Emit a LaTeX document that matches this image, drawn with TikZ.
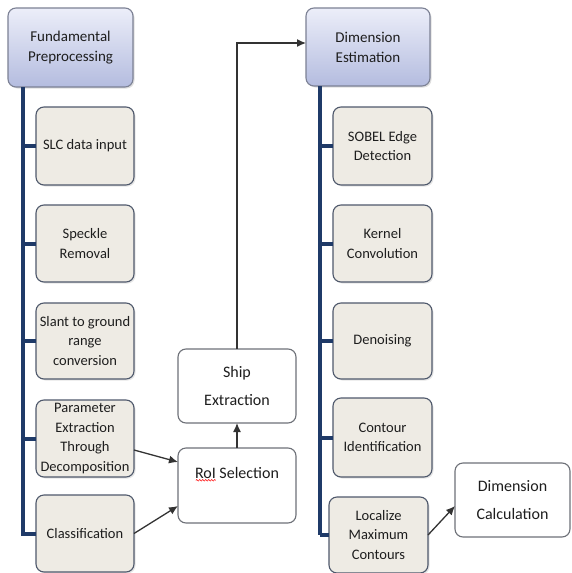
\documentclass[tikz,border=0pt]{standalone}
\usepackage{fontspec}
\setmainfont{Carlito}
\usetikzlibrary{arrows.meta,calc,shadows,decorations.pathmorphing}
\definecolor{barblue}{HTML}{1F3A68}
\definecolor{hdrtop}{HTML}{ECEEF9}
\definecolor{hdrbot}{HTML}{B4BCDF}
\definecolor{hdrline}{HTML}{7C8194}
\definecolor{childfill}{HTML}{EEEBE4}
\definecolor{childline}{HTML}{4F596C}
\definecolor{txt}{HTML}{1E1E1E}
\definecolor{wline}{HTML}{6E7178}
\tikzset{
  box/.style={rounded corners=8pt, align=center, inner sep=1pt, outer sep=0pt,
    text=txt, font=\fontsize{14.5}{19.5}\selectfont, line width=1.1pt},
  hdr/.style={box, font=\fontsize{15}{20}\selectfont, draw=hdrline, top color=hdrtop, bottom color=hdrbot,
    drop shadow={opacity=0.25, shadow xshift=1.5pt, shadow yshift=-1.5pt}},
  child/.style={box, draw=childline, fill=childfill,
    drop shadow={opacity=0.2, shadow xshift=1.5pt, shadow yshift=-1.5pt}},
  wbox/.style={box, draw=wline, fill=white, font=\fontsize{16}{28.5}\selectfont},
  bar/.style={draw=barblue, line width=4pt},
  arr/.style={draw=black!80, line width=1.3pt, -{Latex[length=9pt,width=8pt]}}
}
\begin{document}
\begin{tikzpicture}[x=1pt,y=-1pt]
\useasboundingbox[fill=white] (0,0) rectangle (571,573);
% left column
\node[hdr, minimum width=125pt, minimum height=79pt] (fp) at (70.5,47.5) {Fundamental\\Preprocessing};
\node[child, minimum width=98pt, minimum height=78pt] (slc) at (85,146) {SLC data input};
\node[child, minimum width=98pt, minimum height=77pt] (spk) at (85,243.5) {Speckle\\Removal};
\node[child, minimum width=98pt, minimum height=76pt] (sla) at (85,341) {Slant to ground\\range\\conversion};
\node[child, minimum width=98pt, minimum height=77pt] (par) at (85,438.5) {Parameter\\Extraction\\Through\\Decomposition};
\node[child, minimum width=98pt, minimum height=77pt] (cls) at (85,533.5) {Classification};
% right column
\node[hdr, minimum width=124pt, minimum height=78pt] (de) at (368,47) {Dimension\\Estimation};
\node[child, minimum width=99pt, minimum height=78pt] (sob) at (382.5,146) {SOBEL Edge\\Detection};
\node[child, minimum width=99pt, minimum height=77pt] (ker) at (382.5,243.5) {Kernel\\Convolution};
\node[child, minimum width=99pt, minimum height=76pt] (den) at (382.5,341) {Denoising};
\node[child, minimum width=99pt, minimum height=79pt] (con) at (382.5,437.5) {Contour\\Identification};
\node[child, minimum width=99pt, minimum height=76pt] (loc) at (378.5,535) {Localize\\Maximum\\Contours};
% middle
\node[wbox, minimum width=118pt, minimum height=74pt] (shp) at (237,386) {Ship\\Extraction};
\node[wbox, minimum width=118pt, minimum height=75pt] (roi) at (237,485.5) {};
\node[text=txt, font=\fontsize{16}{28}\selectfont, inner sep=0pt] (roit) at (237,473) {RoI Selection};
\draw[red, line width=0.5pt, decorate, decoration={snake, amplitude=0.8pt, segment length=3pt}]
  ($(roit.south west)+(1,1.5)$) -- ($(roit.south west)+(21,1.5)$);
\node[wbox, minimum width=115pt, minimum height=74pt] (dc) at (512.5,500) {Dimension\\Calculation};
% bars
\coordinate (lb) at (23,87);
\draw[bar] (lb) -- ($(lb |- cls.west)+(0,2)$);
\foreach \n in {slc,spk,sla,par,cls} \draw[bar] (lb |- \n.west) -- (\n.west);
\coordinate (rb) at (320,86);
\draw[bar] (rb) -- ($(rb |- loc.west)+(0,0)$);
\foreach \n in {sob,ker,den,con,loc} \draw[bar] (rb |- \n.west) -- (\n.west);
% arrows
\draw[arr] ($(par.east)+(0,11.5)$) -- ($(roi.west)+(0,-23.5)$);
\draw[arr] (cls.east) -- ($(roi.west)+(0,20.5)$);
\draw[arr] (roi.north) -- (shp.south);
\draw[arr] (shp.north) |- ($(de.west)+(0,-4)$);
\draw[arr] (loc.east) -- ($(dc.west)+(0,6)$);
\end{tikzpicture}
\end{document}
